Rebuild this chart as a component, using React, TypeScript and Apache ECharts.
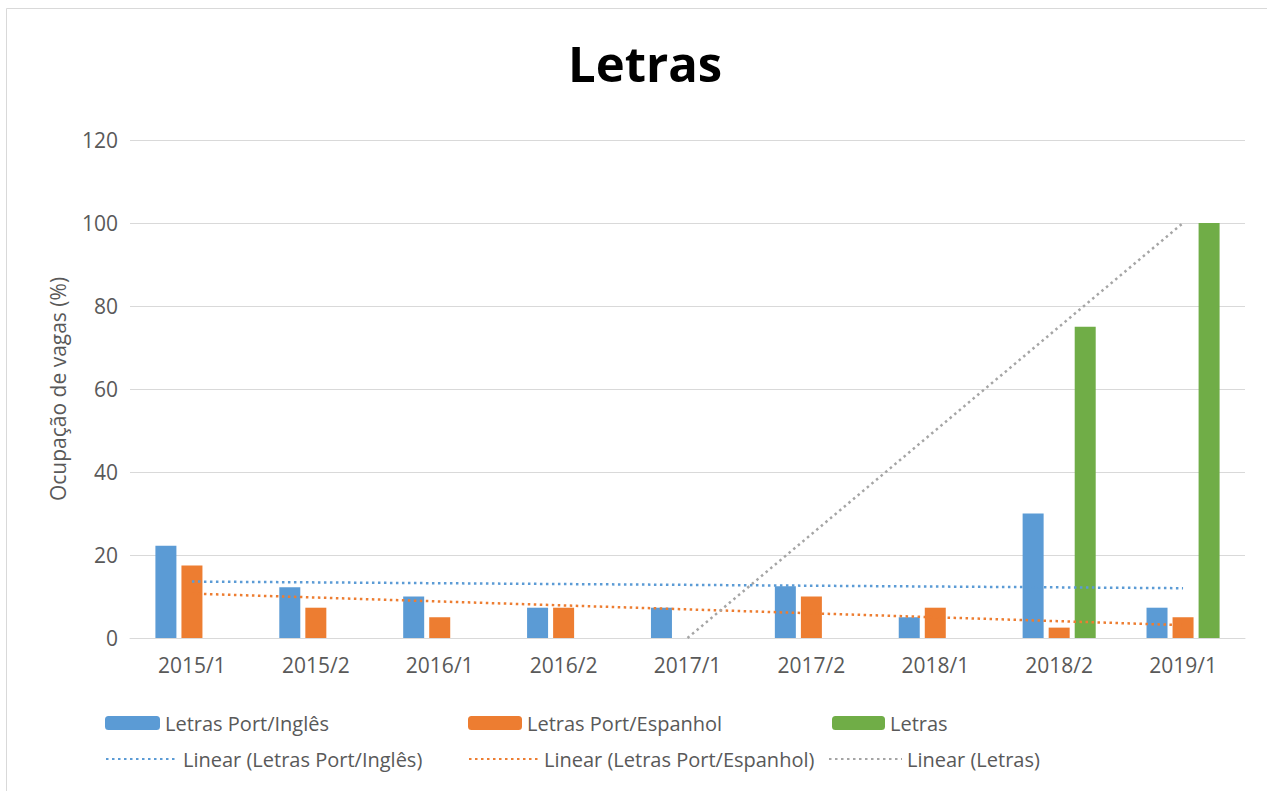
import React, { useEffect, useRef } from "react";
import * as echarts from "echarts";

const categories = ["2015/1", "2015/2", "2016/1", "2016/2", "2017/1", "2017/2", "2018/1", "2018/2", "2019/1"];
const portIngles = [22.2, 12.2, 10, 7.3, 7.3, 12.5, 5, 30, 7.3];
const portEspanhol = [17.5, 7.3, 5, 7.3, 0, 10, 7.3, 2.5, 5];
const letras = [null, null, null, null, null, null, null, 75, 100];
// trendline end points
const trendIngles = [13.6, null, null, null, null, null, null, null, 12.0];
const trendEspanhol = [10.7, null, null, null, null, null, null, null, 3.1];
const trendLetras = [null, null, null, null, 0, null, null, null, 100];
const yTicks = { min: 0, max: 120, interval: 20 };

const FONT = "'Open Sans', 'Noto Sans', sans-serif";
const GRAY_TXT = "#595959";
const BLUE = "#5B9BD5";
const ORANGE = "#ED7D31";
const GREEN = "#70AD47";
const GRAY = "#A5A5A5";

export default function App() {
  const ref = useRef<HTMLDivElement>(null);
  useEffect(() => {
    document.body.style.margin = "0";
    const chart = echarts.init(ref.current!, null, { renderer: "svg" });
    const dotted = (color: string) => ({
      color,
      width: 2.5,
      type: [2.5, 3.5] as any,
      cap: "butt" as any,
    });
    const legendText = { fontFamily: FONT, fontSize: 20, color: GRAY_TXT, lineHeight: 24 };
    const mkLegend = (name: string, left: number, top: number, w: number, isLine: boolean) => ({
      data: [name],
      left,
      top,
      itemWidth: w,
      itemHeight: 14,
      textStyle: legendText,
      selectedMode: false,
      padding: 0,
      ...(isLine ? { itemStyle: { opacity: 0 } } : {}),
    });
    chart.setOption({
      animation: false,
      backgroundColor: "#fff",
      title: {
        text: "Letras",
        left: 563,
        top: 33,
        textStyle: { fontFamily: FONT, fontSize: 49, fontWeight: "bold", color: "#000" },
      },
      graphic: [
        {
          type: "rect",
          shape: { x: 6.5, y: 8.5, width: 1400, height: 1000 },
          style: { fill: "none", stroke: "#d9d9d9", lineWidth: 1 },
          silent: true,
        },
      ],
      legend: [
        mkLegend("Letras Port/Inglês", 105, 711, 55, false),
        mkLegend("Letras Port/Espanhol", 468, 711, 54, false),
        mkLegend("Letras", 832, 711, 53, false),
        mkLegend("Linear (Letras Port/Inglês)", 105, 747, 72, true),
        mkLegend("Linear (Letras Port/Espanhol)", 468, 747, 70, true),
        mkLegend("Linear (Letras)", 828, 747, 73, true),
      ],
      grid: { left: 130, right: 22, top: 140, bottom: 153, containLabel: false, outerBoundsMode: "none" },
      xAxis: {
        type: "category",
        data: categories,
        axisLine: { lineStyle: { color: "#d9d9d9", width: 1 } },
        axisTick: { show: false },
        axisLabel: { fontFamily: FONT, fontSize: 21, color: GRAY_TXT, margin: 16 },
      },
      yAxis: {
        type: "value",
        min: yTicks.min,
        max: yTicks.max,
        interval: yTicks.interval,
        name: "Ocupação de vagas (%)",
        nameLocation: "middle",
        nameRotate: 90,
        nameGap: 62,
        nameTextStyle: { fontFamily: FONT, fontSize: 21, color: GRAY_TXT },
        axisLine: { show: false },
        axisTick: { show: false },
        axisLabel: { fontFamily: FONT, fontSize: 21, color: GRAY_TXT, margin: 12 },
        splitLine: { lineStyle: { color: "#d9d9d9", width: 1 } },
      },
      series: [
        {
          name: "Letras Port/Inglês",
          type: "bar",
          data: portIngles,
          barWidth: 21,
          barGap: "24%",
          itemStyle: { color: BLUE },
        },
        {
          name: "Letras Port/Espanhol",
          type: "bar",
          data: portEspanhol,
          barWidth: 21,
          barGap: "24%",
          itemStyle: { color: ORANGE },
        },
        {
          name: "Letras",
          type: "bar",
          data: letras,
          barWidth: 21,
          barGap: "24%",
          itemStyle: { color: GREEN },
        },
        {
          name: "Linear (Letras Port/Inglês)",
          type: "line",
          data: trendIngles,
          connectNulls: true,
          symbol: "none",
          lineStyle: dotted(BLUE),
          itemStyle: { color: BLUE },
          z: 5,
        },
        {
          name: "Linear (Letras Port/Espanhol)",
          type: "line",
          data: trendEspanhol,
          connectNulls: true,
          symbol: "none",
          lineStyle: dotted(ORANGE),
          itemStyle: { color: ORANGE },
          z: 5,
        },
        {
          name: "Linear (Letras)",
          type: "line",
          data: trendLetras,
          connectNulls: true,
          symbol: "none",
          lineStyle: dotted(GRAY),
          itemStyle: { color: GRAY },
          z: 5,
        },
      ],
    });
    return () => chart.dispose();
  }, []);
  return <div ref={ref} style={{ width: 1267, height: 791 }} />;
}
